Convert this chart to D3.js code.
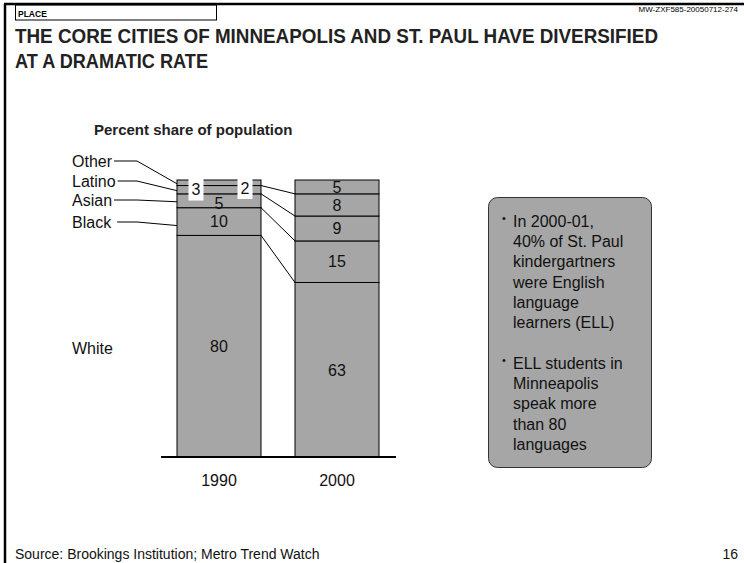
<!DOCTYPE html>
<html>
<head>
<meta charset="utf-8">
<script src="https://cdn.jsdelivr.net/npm/d3@7"></script>
<style>
  body { margin: 0; background: #fff; }
  svg { display: block; font-family: Arial, "Liberation Sans", sans-serif; }
</style>
</head>
<body>
<div class="chart"></div>
<script>
// DATA ------------------------------------
const years = ["1990", "2000"];
const groups = ["White", "Black", "Asian", "Latino", "Other"];
const share1990 = [80, 10, 5, 3, 2];
const share2000 = [63, 15, 9, 8, 5];
const bullets = [
  ["In 2000-01,", "40% of St. Paul", "kindergartners", "were English", "language", "learners (ELL)"],
  ["ELL students in", "Minneapolis", "speak more", "than 80", "languages"]
];

const width = 744, height = 563;

const svg = d3.select(".chart").append("svg")
    .attr("width", width)
    .attr("height", height);

// FRAME -----------------------------------
svg.append("line").attr("x1", 4).attr("x2", 744).attr("y1", 4).attr("y2", 4)
    .attr("stroke", "#000").attr("stroke-width", 2.5);
svg.append("line").attr("x1", 5).attr("x2", 5).attr("y1", 4).attr("y2", 563)
    .attr("stroke", "#000").attr("stroke-width", 2.5);
svg.append("rect").attr("x", 15.5).attr("y", 5).attr("width", 201).attr("height", 15)
    .attr("fill", "none").attr("stroke", "#000").attr("stroke-width", 1);
svg.append("text").attr("x", 18).attr("y", 17).attr("font-size", 8.5)
    .attr("font-weight", "bold").text("PLACE");
svg.append("text").attr("x", 738).attr("y", 12).attr("font-size", 8)
    .attr("text-anchor", "end").text("MW-ZXF585-20050712-274");

svg.append("text").attr("x", 15).attr("y", 43).attr("font-size", 20.5)
    .attr("font-weight", "bold").attr("fill", "#222")
    .attr("textLength", 643).attr("lengthAdjust", "spacingAndGlyphs")
    .text("THE CORE CITIES OF MINNEAPOLIS AND ST. PAUL HAVE DIVERSIFIED");
svg.append("text").attr("x", 15).attr("y", 68).attr("font-size", 20.5)
    .attr("font-weight", "bold").attr("fill", "#222")
    .attr("textLength", 193).attr("lengthAdjust", "spacingAndGlyphs")
    .text("AT A DRAMATIC RATE");

svg.append("text").attr("x", 94).attr("y", 135).attr("font-size", 15)
    .attr("font-weight", "bold").attr("fill", "#222")
    .text("Percent share of population");

// SCALES ----------------------------------
const x = d3.scaleBand()
    .domain(years)
    .range([177, 379])
    .paddingInner(34 / 118)
    .paddingOuter(0);

const y = d3.scaleLinear()
    .domain([0, 100])
    .range([457, 180]);

const rows = years.map(yr => {
  const o = { year: yr };
  groups.forEach((g, i) => { o[g] = yr === "1990" ? share1990[i] : share2000[i]; });
  return o;
});
const series = d3.stack().keys(groups)(rows);

// BARS ------------------------------------
const layer = svg.append("g").selectAll("g")
    .data(series)
    .join("g");

layer.selectAll("rect")
    .data(d => d.map(v => ({ key: d.key, year: v.data.year, y0: v[0], y1: v[1] })))
    .join("rect")
    .attr("x", d => x(d.year))
    .attr("y", d => y(d.y1))
    .attr("width", x.bandwidth())
    .attr("height", d => y(d.y0) - y(d.y1))
    .attr("fill", "#a6a6a6")
    .attr("stroke", "#000")
    .attr("stroke-width", 1);

// connectors between bars
svg.append("g").selectAll("line")
    .data(series.slice(0, -1))
    .join("line")
    .attr("x1", x("1990") + x.bandwidth())
    .attr("y1", d => y(d[0][1]))
    .attr("x2", x("2000"))
    .attr("y2", d => y(d[1][1]))
    .attr("stroke", "#000")
    .attr("stroke-width", 1);

// value labels
series.forEach(s => {
  s.forEach(v => {
    const yr = v.data.year;
    const val = v[1] - v[0];
    let cx = x(yr) + x.bandwidth() / 2;
    let cy = (y(v[0]) + y(v[1])) / 2;
    let boxed = false;
    if (yr === "1990" && s.key === "Latino") { cx = x(yr) + 19; cy = y(v[1]) + 4; boxed = true; }
    if (yr === "1990" && s.key === "Other") { cx = x(yr) + 68; cy = y(v[1]) + 8; boxed = true; }
    if (yr === "1990" && s.key === "Asian") { cy += 2; }
    if (boxed) {
      svg.append("rect")
        .attr("x", cx - 7.5).attr("y", cy - 12)
        .attr("width", 15).attr("height", 23)
        .attr("fill", "#fff");
    }
    svg.append("text")
      .attr("x", cx).attr("y", cy)
      .attr("dy", "0.36em")
      .attr("text-anchor", "middle")
      .attr("font-size", 16)
      .attr("fill", "#111")
      .text(val);
  });
});

// baseline + year labels
svg.append("line").attr("x1", 161).attr("x2", 396)
    .attr("y1", y(0)).attr("y2", y(0))
    .attr("stroke", "#000").attr("stroke-width", 2);

svg.append("g").selectAll("text")
    .data(years)
    .join("text")
    .attr("x", d => x(d) + x.bandwidth() / 2)
    .attr("y", y(0) + 23)
    .attr("dy", "0.36em")
    .attr("text-anchor", "middle")
    .attr("font-size", 16)
    .attr("fill", "#111")
    .text(d => d);

// LEGEND ----------------------------------
const legendY = { Other: 161, Latino: 181, Asian: 200, Black: 222, White: 348 };
const b1990 = series.map(s => ({ key: s.key, y0: s[0][0], y1: s[0][1] }));

const legendText = svg.append("g").selectAll("text")
    .data(b1990)
    .join("text")
    .attr("x", 72)
    .attr("y", d => legendY[d.key])
    .attr("dy", "0.36em")
    .attr("font-size", 16)
    .attr("fill", "#111")
    .text(d => d.key);

const textEnd = {};
legendText.each(function(d) { textEnd[d.key] = 72 + this.getComputedTextLength(); });

svg.append("g").selectAll("path")
    .data(b1990.filter(d => d.key !== "White"))
    .join("path")
    .attr("d", d => {
      const ly = legendY[d.key];
      const ty = (y(d.y0) + y(d.y1)) / 2 + (d.key === "Black" ? 4 : 1);
      const sx = textEnd[d.key] + (d.key === "Black" ? 6 : 2);
      return `M${sx},${ly}L137,${ly}L${x("1990")},${ty}`;
    })
    .attr("fill", "none")
    .attr("stroke", "#000")
    .attr("stroke-width", 1);

// TEXT BOX --------------------------------
svg.append("rect")
    .attr("x", 488.5).attr("y", 197.5)
    .attr("width", 163).attr("height", 270)
    .attr("rx", 9)
    .attr("fill", "#a6a6a6")
    .attr("stroke", "#333")
    .attr("stroke-width", 1);

const box = svg.append("g").attr("font-size", 16).attr("fill", "#111");
const starts = [221, 363];
bullets.forEach((lines, bi) => {
  box.append("text")
    .attr("x", 502).attr("y", starts[bi] - 3)
    .attr("dy", "0.36em")
    .attr("font-size", 11)
    .text("\u2022");
  lines.forEach((ln, li) => {
    box.append("text")
      .attr("x", 513)
      .attr("y", starts[bi] + li * 20.3)
      .attr("dy", "0.36em")
      .text(ln);
  });
});

// FOOTER ----------------------------------
svg.append("text").attr("x", 15).attr("y", 559).attr("font-size", 14)
    .attr("fill", "#111").text("Source: Brookings Institution; Metro Trend Watch");
svg.append("text").attr("x", 738).attr("y", 559).attr("font-size", 14)
    .attr("text-anchor", "end").attr("fill", "#111").text("16");
</script>
</body>
</html>
